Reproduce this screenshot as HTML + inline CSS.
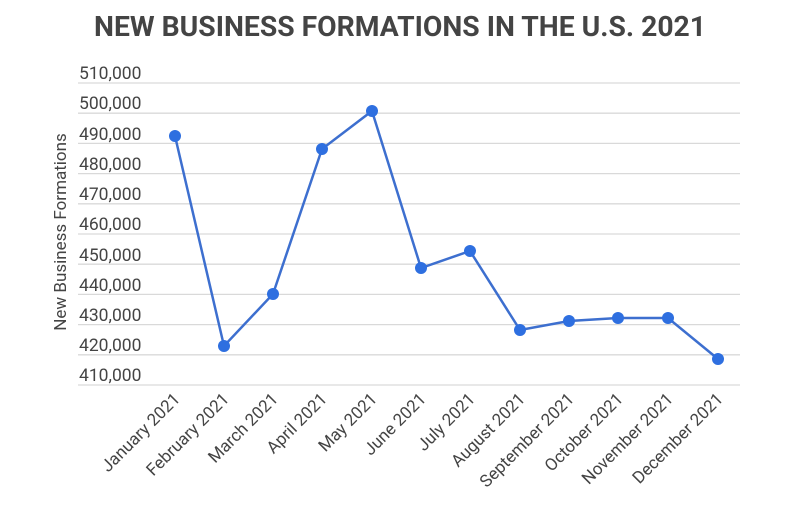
<!DOCTYPE html>
<html><head><style>body{margin:0;background:#fff}</style></head><body>
<svg width="800" height="501" xmlns="http://www.w3.org/2000/svg" font-family="Roboto, 'Liberation Sans', sans-serif">
<text x="400" y="36" text-anchor="middle" font-size="28" font-weight="bold" fill="#444" textLength="612" lengthAdjust="spacingAndGlyphs">NEW BUSINESS FORMATIONS IN THE U.S. 2021</text>
<g stroke="#d9d9d9" stroke-width="1.3">
<line x1="78" x2="740" y1="83" y2="83"/><line x1="78" x2="740" y1="113.2" y2="113.2"/><line x1="78" x2="740" y1="143.4" y2="143.4"/><line x1="78" x2="740" y1="173.6" y2="173.6"/><line x1="78" x2="740" y1="203.8" y2="203.8"/><line x1="78" x2="740" y1="234" y2="234"/><line x1="78" x2="740" y1="264.2" y2="264.2"/><line x1="78" x2="740" y1="294.4" y2="294.4"/><line x1="78" x2="740" y1="324.6" y2="324.6"/><line x1="78" x2="740" y1="354.8" y2="354.8"/><line x1="78" x2="740" y1="385" y2="385"/>
</g>
<g font-size="17.5" fill="#444">
<text x="79" y="79">510,000</text><text x="79" y="109">500,000</text><text x="79" y="140">490,000</text><text x="79" y="170">480,000</text><text x="79" y="200">470,000</text><text x="79" y="230">460,000</text><text x="79" y="261">450,000</text><text x="79" y="291">440,000</text><text x="79" y="321">430,000</text><text x="79" y="351">420,000</text><text x="79" y="381">410,000</text>
</g>
<text transform="translate(66,232) rotate(-90)" text-anchor="middle" font-size="17" fill="#444">New Business Formations</text>
<polyline fill="none" stroke="#3d6fcf" stroke-width="2.5" points="175,136 224,346 273,294 322,149 372,111 421,268 470,251 520,330 569,321 618,318 668,318 718,359"/>
<g fill="#2e6fe0">
<circle cx="175" cy="136" r="6"/><circle cx="224" cy="346" r="6"/><circle cx="273" cy="294" r="6"/><circle cx="322" cy="149" r="6"/><circle cx="372" cy="111" r="6"/><circle cx="421" cy="268" r="6"/><circle cx="470" cy="251" r="6"/><circle cx="520" cy="330" r="6"/><circle cx="569" cy="321" r="6"/><circle cx="618" cy="318" r="6"/><circle cx="668" cy="318" r="6"/><circle cx="718" cy="359" r="6"/>
</g>
<g font-size="17" fill="#444" text-anchor="end">
<text transform="translate(181,400) rotate(-45)">January 2021</text>
<text transform="translate(230,400) rotate(-45)">February 2021</text>
<text transform="translate(279,400) rotate(-45)">March 2021</text>
<text transform="translate(328,400) rotate(-45)">April 2021</text>
<text transform="translate(378,400) rotate(-45)">May 2021</text>
<text transform="translate(427,400) rotate(-45)">June 2021</text>
<text transform="translate(476,400) rotate(-45)">July 2021</text>
<text transform="translate(526,400) rotate(-45)">August 2021</text>
<text transform="translate(575,400) rotate(-45)">September 2021</text>
<text transform="translate(624,400) rotate(-45)">October 2021</text>
<text transform="translate(674,400) rotate(-45)">November 2021</text>
<text transform="translate(724,400) rotate(-45)">December 2021</text>
</g>
</svg>
</body></html>
